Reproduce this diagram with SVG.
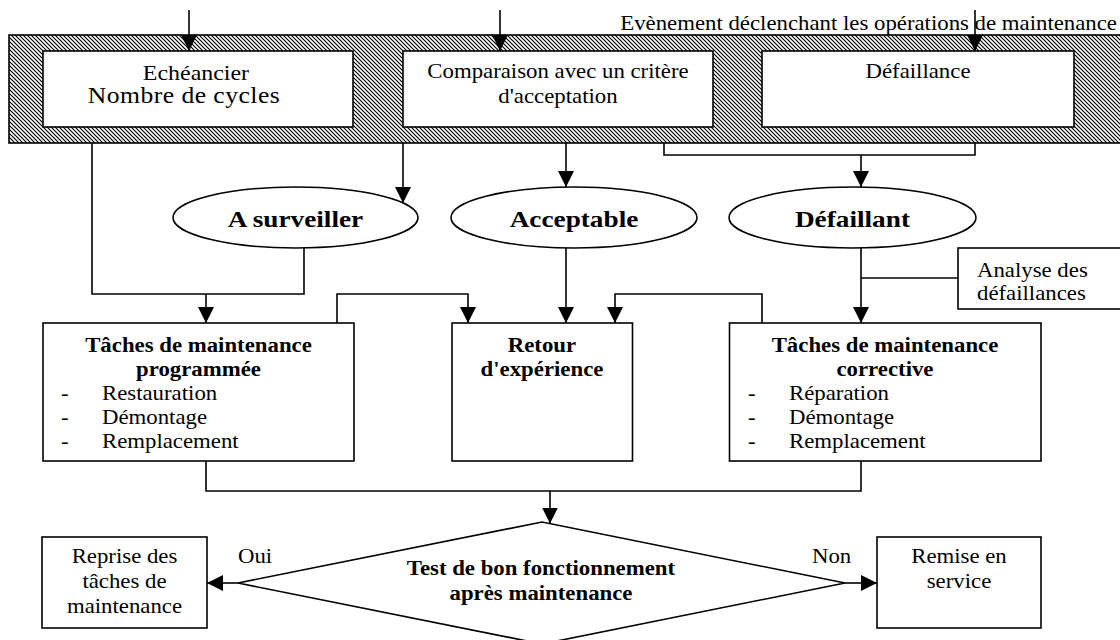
<svg xmlns="http://www.w3.org/2000/svg" width="1120" height="640" viewBox="0 0 1120 640">
  <style>
    text { font-family: "Liberation Serif", "Times New Roman", serif; font-size: 20px; fill: #000; }
    .c { text-anchor: middle; transform-box: fill-box; transform-origin: center; transform: scaleX(1.14); }
    .l { text-anchor: start; transform-box: fill-box; transform-origin: left center; transform: scaleX(1.14); }
    .r { text-anchor: end; transform-box: fill-box; transform-origin: right center; transform: scaleX(1.14); }
    .b { font-weight: bold; }
    .big { font-size: 23.5px; transform: scaleX(1.16); }
    .box { fill: #fff; stroke: #000; stroke-width: 1.6; }
    .wire { fill: none; stroke: #000; stroke-width: 1.6; }
    .arrow { fill: none; stroke: #000; stroke-width: 1.6; marker-end: url(#head); }
  </style>
  <defs>
    <pattern id="hatch" width="4" height="4" patternUnits="userSpaceOnUse">
      <rect width="4" height="4" fill="#fff"/>
      <path d="M-1,-1 L5,5 M-1,3 L1,5 M3,-1 L5,1" stroke="#000" stroke-width="1.15"/>
    </pattern>
    <marker id="head" viewBox="0 0 16 16" refX="16" refY="8" markerWidth="16" markerHeight="16" markerUnits="userSpaceOnUse" orient="auto">
      <path d="M0,0 L16,8 L0,16 z" fill="#000"/>
    </marker>
  </defs>

  <rect width="1120" height="640" fill="#fff"/>

  <!-- band of triggering events -->
  <g id="evenements">
    <rect x="9" y="35" width="1112" height="108" fill="url(#hatch)" stroke="#000" stroke-width="1.6"/>
    <text class="r" x="1117" y="30">Evènement déclenchant les opérations de maintenance</text>
  </g>

  <g id="echeancier">
    <rect class="box" x="43" y="51" width="310" height="76"/>
    <text class="c" x="196" y="80" style="font-size:21px">Echéancier</text>
    <text class="c" x="184" y="103" style="font-size:22.5px;letter-spacing:0.4px">Nombre de cycles</text>
  </g>

  <g id="comparaison">
    <rect class="box" x="403" y="51" width="310" height="76"/>
    <text class="c" x="558" y="78">Comparaison avec un critère</text>
    <text class="c" x="558" y="103">d'acceptation</text>
  </g>

  <g id="defaillance">
    <rect class="box" x="762" y="51" width="312" height="76"/>
    <text class="c" x="918" y="78">Défaillance</text>
  </g>

  <!-- states -->
  <g id="a-surveiller">
    <ellipse class="box" cx="295.5" cy="217.5" rx="122.5" ry="30.5"/>
    <text class="c b big" x="295.5" y="227">A surveiller</text>
  </g>
  <g id="acceptable">
    <ellipse class="box" cx="574" cy="217.5" rx="123" ry="30.5"/>
    <text class="c b big" x="574" y="227">Acceptable</text>
  </g>
  <g id="defaillant">
    <ellipse class="box" cx="852.5" cy="217.5" rx="123.5" ry="30.5"/>
    <text class="c b big" x="852.5" y="227">Défaillant</text>
  </g>

  <g id="analyse">
    <rect class="box" x="958" y="248" width="170" height="61"/>
    <text class="l" x="977" y="277">Analyse des</text>
    <text class="l" x="977" y="300">défaillances</text>
  </g>

  <!-- maintenance tasks -->
  <g id="programmee">
    <rect class="box" x="43" y="323" width="311" height="138"/>
    <text class="c b" x="198.5" y="352">Tâches de maintenance</text>
    <text class="c b" x="198.5" y="376">programmée</text>
    <text class="l" x="61" y="400">-</text>
    <text class="l" x="102" y="400">Restauration</text>
    <text class="l" x="61" y="424">-</text>
    <text class="l" x="102" y="424">Démontage</text>
    <text class="l" x="61" y="448">-</text>
    <text class="l" x="102" y="448">Remplacement</text>
  </g>

  <g id="retour">
    <rect class="box" x="452" y="323" width="180.5" height="138"/>
    <text class="c b" x="542" y="352">Retour</text>
    <text class="c b" x="542" y="376">d'expérience</text>
  </g>

  <g id="corrective">
    <rect class="box" x="729.5" y="323" width="311.5" height="138"/>
    <text class="c b" x="885" y="352">Tâches de maintenance</text>
    <text class="c b" x="885" y="376">corrective</text>
    <text class="l" x="748" y="400">-</text>
    <text class="l" x="789" y="400">Réparation</text>
    <text class="l" x="748" y="424">-</text>
    <text class="l" x="789" y="424">Démontage</text>
    <text class="l" x="748" y="448">-</text>
    <text class="l" x="789" y="448">Remplacement</text>
  </g>

  <!-- final check -->
  <g id="test">
    <polygon class="box" points="238,583 542,522 845,583 542,644"/>
    <text class="c b" x="541" y="575">Test de bon fonctionnement</text>
    <text class="c b" x="541" y="600">après maintenance</text>
  </g>

  <g id="reprise">
    <rect class="box" x="42" y="537" width="165" height="91"/>
    <text class="c" x="124.5" y="563">Reprise des</text>
    <text class="c" x="124.5" y="588">tâches de</text>
    <text class="c" x="124.5" y="613">maintenance</text>
  </g>

  <g id="remise">
    <rect class="box" x="877" y="537" width="164" height="91"/>
    <text class="c" x="959" y="563">Remise en</text>
    <text class="c" x="959" y="588">service</text>
  </g>

  <g id="connectors">
    <!-- incoming triggers -->
    <path class="arrow" d="M189,10 V51"/>
    <path class="arrow" d="M500,10 V51"/>
    <path class="arrow" d="M975,10 V51"/>

    <!-- events to states -->
    <path class="wire" d="M92,143 V294 H304 V248"/>
    <path class="arrow" d="M206,294 V323"/>
    <path class="arrow" d="M403,143 V203"/>
    <path class="arrow" d="M566,143 V187"/>
    <path class="wire" d="M664,143 V155 H975 V143"/>
    <path class="arrow" d="M861,155 V187"/>

    <!-- states to tasks -->
    <path class="arrow" d="M566,248 V323"/>
    <path class="arrow" d="M337,323 V294 H468 V323"/>
    <path class="arrow" d="M762,323 V294 H615 V323"/>
    <path class="arrow" d="M861,248 V323"/>
    <path class="wire" d="M861,278 H958"/>

    <!-- tasks to check -->
    <path class="wire" d="M206,461 V491 H861 V461"/>
    <path class="arrow" d="M550,491 V523.5"/>

    <!-- outcomes -->
    <path class="arrow" d="M238,583 H207"/>
    <text class="l" x="238" y="563">Oui</text>
    <path class="arrow" d="M845,583 H877"/>
    <text class="l" x="812" y="563">Non</text>
  </g>
</svg>
